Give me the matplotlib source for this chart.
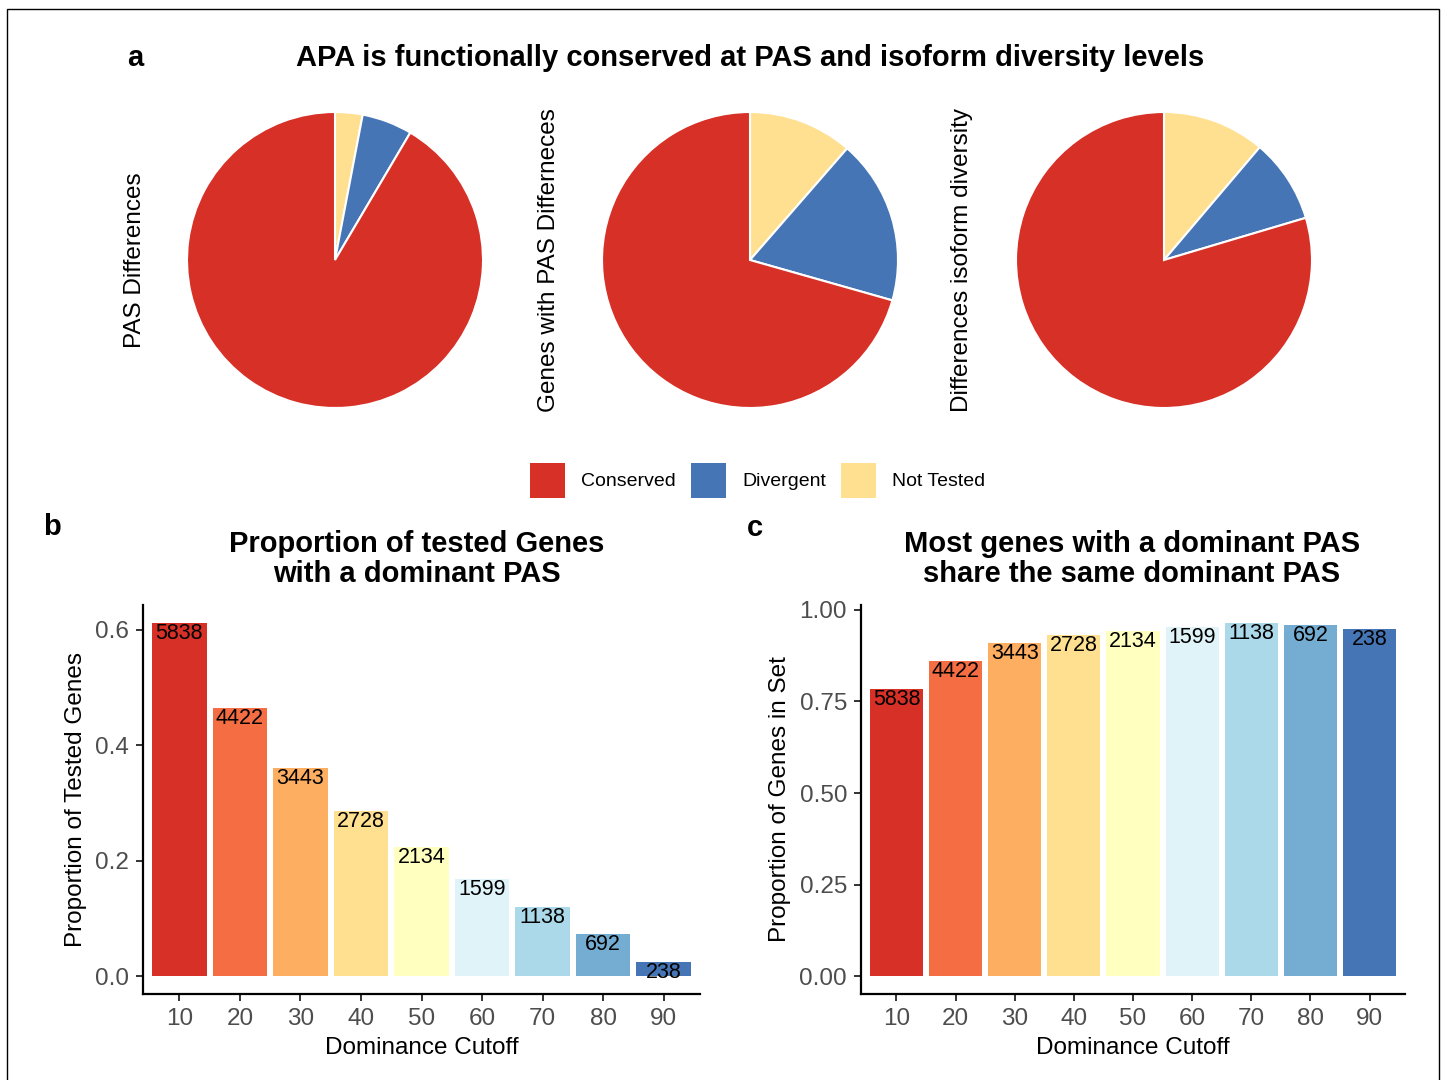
import matplotlib
matplotlib.use("Agg")
import matplotlib.pyplot as plt
from matplotlib.patches import Rectangle

plt.rcParams["font.family"] = ["Liberation Sans", "DejaVu Sans"]

# pie data: share of genes per status (Not Tested, Divergent, Conserved)
pie_status = ["Not Tested", "Divergent", "Conserved"]
pie_titles = ["PAS Differences", "Genes with PAS Differneces",
              "Differences isoform diversity"]
pas_diff = [3.0, 5.5, 91.5]
genes_pas_diff = [11.4, 18.0, 70.6]
isoform_diff = [11.2, 9.2, 79.6]

# bar data
cutoffs = ["10", "20", "30", "40", "50", "60", "70", "80", "90"]
gene_counts = [5838, 4422, 3443, 2728, 2134, 1599, 1138, 692, 238]
prop_tested = [0.612, 0.464, 0.361, 0.286, 0.224, 0.168, 0.120, 0.074, 0.024]
prop_same = [0.785, 0.861, 0.910, 0.932, 0.943, 0.954, 0.965, 0.959, 0.948]

status_colors = {"Conserved": "#D73027", "Divergent": "#4575B4",
                 "Not Tested": "#FEE090"}
rdylbu = ["#D73027", "#F46D43", "#FDAE61", "#FEE090", "#FFFFBF",
          "#E0F3F8", "#ABD9E9", "#74ADD1", "#4575B4"]

W, H = 1444, 1080
fig = plt.figure(figsize=(W / 100, H / 100), dpi=100)


def px_axes(left, top, right, bottom):
    return fig.add_axes([left / W, 1 - bottom / H, (right - left) / W,
                         (bottom - top) / H])


def ftext(x, y, s, **kw):
    fig.text(x / W, 1 - y / H, s, **kw)


# outer frame
fig.add_artist(Rectangle((7 / W, -0.01), (1439 - 7) / W, 1 - 9 / H + 0.01,
                         transform=fig.transFigure, fill=False,
                         edgecolor="black", linewidth=1.0))

# ---- panel a: pies
ftext(135, 58, "a", fontsize=21, fontweight="bold", ha="center", va="center")
ftext(750, 58, "APA is functionally conserved at PAS and isoform diversity levels",
      fontsize=21, fontweight="bold", ha="center", va="center")

pie_sets = [pas_diff, genes_pas_diff, isoform_diff]
centers = [335, 750, 1164]
label_x = [135, 549, 962]
R = 148
for vals, cx, lx, title in zip(pie_sets, centers, label_x, pie_titles):
    ax = px_axes(cx - R, 260 - R, cx + R, 260 + R)
    ax.pie(vals, colors=[status_colors[s] for s in pie_status],
           startangle=90, counterclock=False, radius=1,
           wedgeprops=dict(edgecolor="white", linewidth=1.5))
    ax.set_xlim(-1, 1)
    ax.set_ylim(-1, 1)
    ax.axis("off")
    ftext(lx, 260, title, fontsize=17.5, rotation=90, ha="center", va="center")

# legend
leg_items = [("Conserved", 530), ("Divergent", 691), ("Not Tested", 841)]
for name, lx in leg_items:
    fig.add_artist(Rectangle((lx / W, 1 - 498 / H), 35 / W, 35 / H,
                             transform=fig.transFigure,
                             facecolor=status_colors[name], edgecolor="none"))
    ftext(lx + 51, 481, name, fontsize=14, ha="left", va="center")


# ---- panels b and c: bars
def bar_panel(ax, values, ylim, yticks, ylabels, ylabel):
    pos = range(1, len(values) + 1)
    ax.bar(pos, values, width=0.9, color=rdylbu)
    for p, v, n in zip(pos, values, gene_counts):
        ax.text(p, v, str(n), ha="center", va="top", fontsize=15.5,
                color="black")
    ax.set_xlim(0.4, 9.6)
    ax.set_ylim(*ylim)
    ax.set_xticks(list(pos))
    ax.set_xticklabels(cutoffs)
    ax.set_yticks(yticks)
    ax.set_yticklabels(ylabels)
    for side in ["top", "right"]:
        ax.spines[side].set_visible(False)
    for side in ["left", "bottom"]:
        ax.spines[side].set_linewidth(1.6)
    ax.tick_params(length=5, width=1.4, color="#333333", labelcolor="#4D4D4D",
                   labelsize=17.5, pad=5)
    ax.set_xlabel("Dominance Cutoff", fontsize=17.5, labelpad=5)
    ax.set_ylabel(ylabel, fontsize=17.5, labelpad=6)


ax_b = px_axes(143, 605, 700, 994)
bar_panel(ax_b, prop_tested, (-0.0306, 0.643), [0, 0.2, 0.4, 0.6],
          ["0.0", "0.2", "0.4", "0.6"], "Proportion of Tested Genes")
ax_c = px_axes(861, 605, 1405, 994)
bar_panel(ax_c, prop_same, (-0.048, 1.013), [0, 0.25, 0.5, 0.75, 1.0],
          ["0.00", "0.25", "0.50", "0.75", "1.00"], "Proportion of Genes in Set")

ftext(52, 527, "b", fontsize=21, fontweight="bold", ha="center", va="center")
ftext(755, 528, "c", fontsize=21, fontweight="bold", ha="center", va="center")
ftext(417, 559, "Proportion of tested Genes\nwith a dominant PAS", fontsize=21,
      fontweight="bold", ha="center", va="center", linespacing=1.1)
ftext(1132, 559, "Most genes with a dominant PAS\nshare the same dominant PAS",
      fontsize=21, fontweight="bold", ha="center", va="center", linespacing=1.1)

fig.savefig("out.png", dpi=100)
